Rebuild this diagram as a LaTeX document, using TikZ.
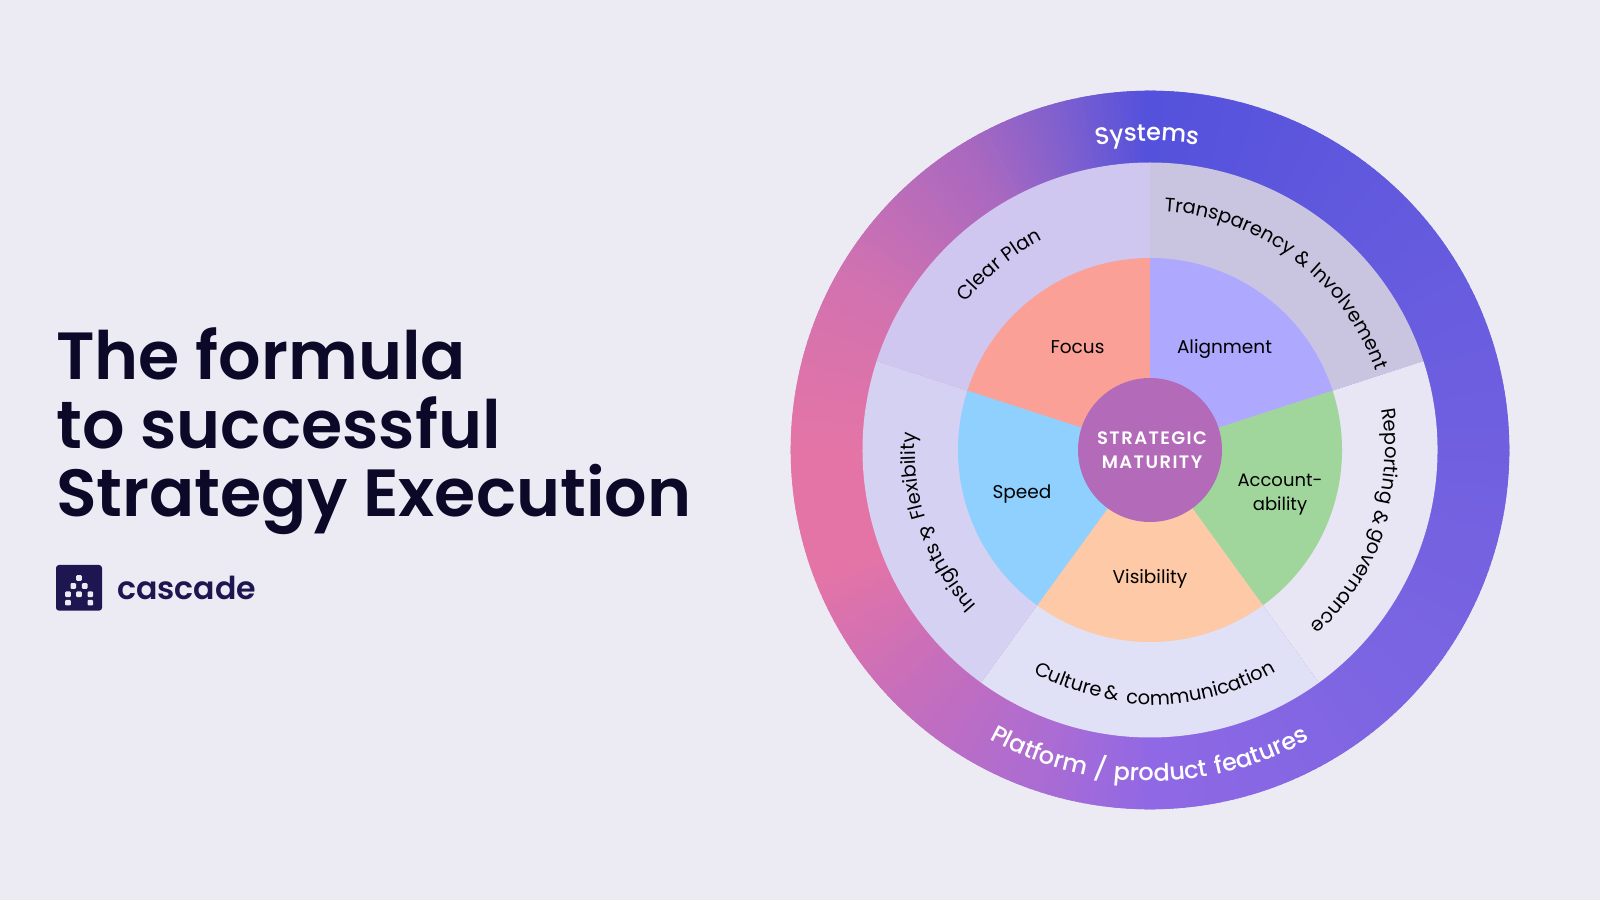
\documentclass[tikz,border=0pt]{standalone}
\usepackage{fontspec}
\usetikzlibrary{decorations.text}
\newfontfamily\popreg{Poppins}
\newfontfamily\popregS[LetterSpace=2]{Poppins}
\newfontfamily\popmed{Poppins Medium}
\newfontfamily\popmedS[LetterSpace=6]{Poppins Medium}
\newfontfamily\popmedT[LetterSpace=4.5]{Poppins Medium}
\newfontfamily\popsemi{Poppins SemiBold}
\definecolor{pagebg}{HTML}{ECEBF4}
\definecolor{inkdark}{HTML}{0C0828}
\definecolor{brand}{HTML}{1E1650}
\definecolor{gA}{HTML}{5451DC}
\definecolor{gB}{HTML}{8060CE}
\definecolor{gC}{HTML}{A868C0}
\definecolor{gD}{HTML}{D272B0}
\definecolor{gE}{HTML}{E474A6}
\definecolor{gF}{HTML}{E474A6}
\definecolor{gG}{HTML}{C66EBC}
\definecolor{gH}{HTML}{AC6CD2}
\definecolor{gI}{HTML}{9068E5}
\definecolor{gJ}{HTML}{7C65E2}
\definecolor{gK}{HTML}{7060E0}
\definecolor{gL}{HTML}{5E57DD}
\definecolor{midA}{HTML}{CFC7F0}
\definecolor{midB}{HTML}{C9C4E0}
\definecolor{midC}{HTML}{E8E6F4}
\definecolor{midD}{HTML}{E0E1F6}
\definecolor{midE}{HTML}{D5D1F3}
\definecolor{inA}{HTML}{FAA096}
\definecolor{inB}{HTML}{AEA8FE}
\definecolor{inC}{HTML}{A0D69C}
\definecolor{inD}{HTML}{FDC9A6}
\definecolor{inE}{HTML}{8FD0FF}
\definecolor{hub}{HTML}{B36BB9}
\newcommand\fRing{\popmedS\fontsize{24}{28}\selectfont\color{white}}
\newcommand\fSys{\popmedT\fontsize{24}{28}\selectfont\color{white}}
\newcommand\fMid{\popregS\fontsize{19.5}{22}\selectfont\color{black}}
\newcommand\sector[4]{\fill[#4] (C) -- ([shift={(#2:#1pt)}]C) arc[start angle=#2,end angle=#3,radius=#1pt] -- cycle;}
\newcommand\arclabel[5]{%
  \pgfmathsetmacro\sA{#2-10*sign(#3-#2)}%
  \pgfmathsetmacro\sB{#3+10*sign(#3-#2)}%
  \path[decorate,decoration={text along path,text align=center,text={|#4|#5}}] ([shift={(\sA:#1pt)}]C) arc[start angle=\sA,end angle=\sB,radius=#1pt];}
\tikzset{
  wedgelabel/.style={font=\popreg\fontsize{18.5}{24}\selectfont,text=black,align=center,inner sep=0pt},
  amp/.style={font=\popreg\fontsize{19.5}{22}\selectfont,text=black,inner sep=0pt},
  dot/.style={fill=#1,rounded corners=1pt,minimum size=5.6pt,inner sep=0pt},
}
\begin{document}
\begin{tikzpicture}[x=1pt,y=1pt]
\fill[pagebg] (0,0) rectangle (1600,900);
\coordinate (C) at (1150,450);
% outer ring with angular gradient
\foreach \s/\e/\ca/\cb in {90/105/gA/gB,105/120/gB/gC,120/150/gC/gD,150/180/gD/gE,180/200/gE/gF,200/225/gF/gG,225/250/gG/gH,250/270/gH/gI,270/315/gI/gJ,315/360/gJ/gK,360/420/gK/gL,420/450/gL/gA}{
  \pgfmathtruncatemacro\n{\e-\s}
  \foreach \i in {1,...,\n}{
    \pgfmathsetmacro\aa{\s+\i-1}
    \pgfmathsetmacro\bb{\aa+1.8}
    \pgfmathtruncatemacro\p{100-100*(\i-1)/\n}
    \colorlet{slice}{\ca!\p!\cb}
    \sector{359.3}{\aa}{\bb}{slice}
  }
}
% middle ring
\sector{287.5}{90}{162}{midA}
\sector{287.5}{18}{90}{midB}
\sector{287.5}{-54}{18}{midC}
\sector{287.5}{-126}{-54}{midD}
\sector{287.5}{162}{234}{midE}
% inner wedges
\sector{192}{90}{162}{inA}
\sector{192}{18}{90}{inB}
\sector{192}{-54}{18}{inC}
\sector{192}{-126}{-54}{inD}
\sector{192}{162}{234}{inE}
\fill[hub] (C) circle[radius=72pt];
% texts on the outer ring
\arclabel{309}{99.5}{81.5}{\fSys}{Systems}
\arclabel{331}{-118.1}{-62.1}{\fRing}{Platform / product features}
% texts on the middle ring
\arclabel{236}{140.5}{118}{\fMid}{Clear Plan}
\arclabel{239}{86}{20}{\fMid}{Transparency {\&} Involvement}
\arclabel{235}{10}{-13}{\fMid}{Reporting}
\arclabel{238}{-21}{-46}{\fMid}{governance}
\arclabel{252}{-117.5}{-101.5}{\fMid}{Culture}
\arclabel{255}{-94.9}{-60.9}{\fMid}{communication}
\arclabel{233}{220.9}{204.2}{\fMid}{Insights}
\arclabel{235}{196.5}{176}{\fMid}{Flexibility}
\node[amp,rotate=-106.5] (ampR) at ([shift={(-16.5:241pt)}]C) {\&};
\node[amp,rotate=-9] (ampC) at ([shift={(-99:246pt)}]C) {\&};
\node[amp,rotate=-70] (ampI) at ([shift={(200.5:237pt)}]C) {\&};
% wedge labels
\node[wedgelabel] (focus) at (1077.5,553) {Focus};
\node[wedgelabel] (alignment) at (1224.5,551) {Alignment};
\node[wedgelabel] (speed) at (1022,406) {Speed};
\node[wedgelabel,font=\popreg\fontsize{18}{24}\selectfont] (account) at (1280,405) {Account-\\ability};
\node[wedgelabel] (visibility) at (1150,321.5) {Visibility};
\node[font=\popsemi\fontsize{18}{23.5}\selectfont,text=white,align=center,inner sep=0pt] (hubtext) at (1152,450) {\addfontfeature{LetterSpace=8}STRATEGIC\\\addfontfeature{LetterSpace=8}MATURITY};
% title
\node[font=\popsemi\fontsize{66.7}{68.5}\selectfont,text=inkdark,align=left,anchor=west,inner sep=0pt] (title) at (56,468.5) {The formula\\to successful\\Strategy Execution};
% logo
\fill[brand,rounded corners=3pt] (56,289.3) rectangle (102,335);
\foreach \nm/\x/\y in {a/79/314,b/73.3/306,c/84.7/306,d/68/297.7,e/79/297.7,f/90.3/297.7,g/68/289.3,h/90.3/289.3}{
  \node[dot=pagebg] (d\nm) at (\x,\y+8) {};
}
\node[font=\popsemi\fontsize{31.6}{34}\selectfont,text=brand,anchor=base west,inner sep=0pt] (brandname) at (117,300) {cascade};
\end{tikzpicture}
\end{document}
